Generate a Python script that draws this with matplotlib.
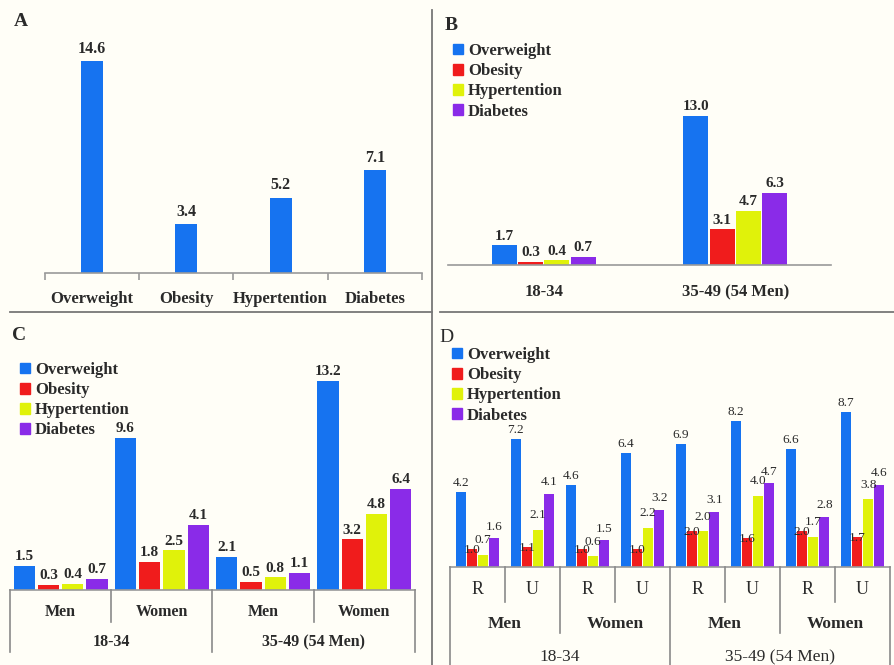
import numpy as np
import matplotlib.pyplot as plt
import matplotlib.transforms as mtransforms
from matplotlib.lines import Line2D
from matplotlib.patches import Patch

plt.rcParams['font.family'] = ['Liberation Serif', 'DejaVu Serif']

conditions = ['Overweight', 'Obesity', 'Hypertention', 'Diabetes']
colors = ['#1673F0', '#F01C1C', '#E0F20A', '#8A2BE8']

# A: whole sample
a_values = [14.6, 3.4, 5.2, 7.1]

# B: by age group (rows = groups, cols = conditions)
b_groups = ['18-34', '35-49 (54 Men)']
b_values = [[1.7, 0.3, 0.4, 0.7],
            [13.0, 3.1, 4.7, 6.3]]

# C: by age and sex
c_sex = ['Men', 'Women', 'Men', 'Women']
c_values = [[1.5, 0.3, 0.4, 0.7],
            [9.6, 1.8, 2.5, 4.1],
            [2.1, 0.5, 0.8, 1.1],
            [13.2, 3.2, 4.8, 6.4]]

# D: by age, sex and residence (R = rural, U = urban)
d_area = ['R', 'U', 'R', 'U', 'R', 'U', 'R', 'U']
d_sex = ['Men', 'Women', 'Men', 'Women']
d_values = [[4.2, 1.0, 0.7, 1.6],
            [7.2, 1.1, 2.1, 4.1],
            [4.6, 1.0, 0.6, 1.5],
            [6.4, 1.0, 2.2, 3.2],
            [6.9, 2.0, 2.0, 3.1],
            [8.2, 1.6, 4.0, 4.7],
            [6.6, 2.0, 1.7, 2.8],
            [8.7, 1.7, 3.8, 4.6]]

W, H = 895, 665
bg = '#FFFEF7'
txt = '#2a2a2a'
grey = '#8a8a8a'

fig = plt.figure(figsize=(W / 100, H / 100), dpi=100, facecolor=bg)


def fx(px):
    return px / W


def fy(py):
    return 1 - py / H


def make_ax(left, top, right, bottom, ytop):
    ax = fig.add_axes([fx(left), fy(bottom), fx(right - left), (bottom - top) / H])
    ax.set_facecolor('none')
    ax.set_ylim(0, ytop)
    for s in ['top', 'right', 'left']:
        ax.spines[s].set_visible(False)
    ax.spines['bottom'].set_color('#9a9a9a')
    ax.spines['bottom'].set_linewidth(1.2)
    ax.set_yticks([])
    return ax


def grouped(ax, values, spacing, width, fs, weight, pads=(2, 2, 2, 2)):
    values = np.array(values)
    x = np.arange(len(values))
    for i in range(len(conditions)):
        bars = ax.bar(x + (i - 1.5) * spacing, values[:, i], width,
                      color=colors[i], label=conditions[i])
        ax.bar_label(bars, fmt='%.1f', padding=pads[i], fontsize=fs,
                     fontweight=weight, color=txt)
    ax.set_xlim(-0.5, len(values) - 0.5)


def legend(x, y):
    handles = [Patch(color=c) for c in colors]
    fig.legend(handles, conditions, loc='upper left',
               bbox_to_anchor=(fx(x), fy(y)), frameon=False,
               prop={'size': 12, 'weight': 'bold'}, labelcolor=txt,
               handlelength=0.6, handleheight=0.6, handletextpad=0.3,
               labelspacing=0.25, borderpad=0, borderaxespad=0)


# ---- A
axA = make_ax(45, 41, 422, 273, 16.0)
xa = np.arange(len(a_values))
bars = axA.bar(xa, a_values, 0.235, color=colors[0])
axA.bar_label(bars, fmt='%.1f', padding=3, fontsize=11.5, fontweight='bold', color=txt)
axA.set_xlim(-0.5, 3.5)
axA.set_xticks(np.arange(-0.5, 4, 1))
axA.set_xticklabels([])
axA.set_xticks(xa, minor=True)
axA.set_xticklabels(conditions, minor=True, fontsize=12, fontweight='bold', color=txt)
axA.tick_params(axis='x', which='major', length=5, color='#9a9a9a', width=1.2)
axA.tick_params(axis='x', which='minor', length=0, pad=13)
fig.text(fx(14), fy(22), 'A', fontsize=14, fontweight='bold', color=txt, va='center')

# ---- B
axB = make_ax(448, 40, 831, 265, 19.6)
grouped(axB, b_values, 0.137, 0.13, 11, 'bold')
axB.set_xticks(np.arange(len(b_groups)))
axB.set_xticklabels(b_groups, fontsize=12, fontweight='bold', color=txt)
axB.tick_params(axis='x', length=0, pad=14)
fig.text(fx(445), fy(25), 'B', fontsize=14, fontweight='bold', color=txt, va='center')
legend(453, 43)

# ---- C
axC = make_ax(10, 340, 415, 590, 15.8)
grouped(axC, c_values, 0.24, 0.21, 11, 'bold')
axC.set_xticks([])
trC = mtransforms.blended_transform_factory(axC.transData, fig.transFigure)
for xb in [0.5, 2.5]:
    fig.add_artist(Line2D([xb, xb], [fy(590), fy(622)], transform=trC, color=grey, lw=1.2))
for xb in [-0.5, 1.5, 3.5]:
    fig.add_artist(Line2D([xb, xb], [fy(590), fy(652)], transform=trC, color=grey, lw=1.2))
for i, s in enumerate(c_sex):
    fig.text(i, fy(612), s, transform=trC, ha='center', va='center',
             fontsize=11.5, fontweight='bold', color=txt)
for i, s in enumerate(b_groups):
    fig.text(2 * i + 0.5, fy(642), s, transform=trC, ha='center', va='center',
             fontsize=11.5, fontweight='bold', color=txt)
fig.text(fx(12), fy(336), 'C', fontsize=14, fontweight='bold', color=txt, va='center')
legend(20, 362)

# ---- D
axD = make_ax(450, 335, 890, 567, 13.0)
grouped(axD, d_values, 0.205, 0.18, 9.5, 'normal', pads=(2, -5, 6, 4))
axD.set_xticks([])
trD = mtransforms.blended_transform_factory(axD.transData, fig.transFigure)
for xb in [0.5, 2.5, 4.5, 6.5]:
    fig.add_artist(Line2D([xb, xb], [fy(567), fy(602)], transform=trD, color=grey, lw=1.2))
for xb in [1.5, 5.5]:
    fig.add_artist(Line2D([xb, xb], [fy(567), fy(633)], transform=trD, color=grey, lw=1.2))
for xb in [-0.5, 3.5, 7.5]:
    fig.add_artist(Line2D([xb, xb], [fy(567), 0], transform=trD, color=grey, lw=1.2))
for i, s in enumerate(d_area):
    fig.text(i, fy(589), s, transform=trD, ha='center', va='center',
             fontsize=13, color=txt)
for i, s in enumerate(d_sex):
    fig.text(2 * i + 0.5, fy(624), s, transform=trD, ha='center', va='center',
             fontsize=12.5, fontweight='bold', color=txt)
for i, s in enumerate(b_groups):
    fig.text(4 * i + 1.5, fy(657), s, transform=trD, ha='center', va='center',
             fontsize=12.5, color=txt)
fig.text(fx(439), fy(337), 'D', fontsize=14, color=txt, va='center')
legend(452, 347)

# panel separators
fig.add_artist(Line2D([fx(10), fx(432)], [fy(312), fy(312)], color='#777777', lw=1.3))
fig.add_artist(Line2D([fx(440), fx(895)], [fy(312), fy(312)], color='#777777', lw=1.3))
fig.add_artist(Line2D([fx(432), fx(432)], [fy(10), 0], color='#777777', lw=1.3))

fig.savefig('out.png', dpi=100, facecolor=bg)
